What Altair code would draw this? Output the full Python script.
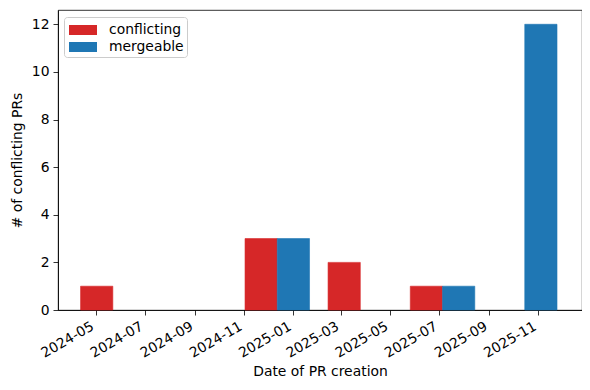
import altair as alt
import pandas as pd

# Data
bin_dates = ["2024-05-22", "2024-09-01", "2024-12-12", "2025-03-25", "2025-07-05", "2025-10-15"]
conflicting = [1, 0, 3, 2, 1, 0]
mergeable = [0, 0, 3, 0, 1, 12]
series = ["conflicting", "mergeable"]
colors = ["#d62728", "#1f77b4"]
tick_dates = ["2024-05-01", "2024-07-01", "2024-09-01", "2024-11-01", "2025-01-01",
              "2025-03-01", "2025-05-01", "2025-07-01", "2025-09-01", "2025-11-01"]
x_domain = ["2024-03-15", "2025-12-25"]

bar_days = 40


def dt(d):
    t = pd.Timestamp(d)
    return alt.DateTime(year=t.year, month=t.month, date=t.day, utc=True)


rows = []
width = pd.Timedelta(days=bar_days)
for d, c, m in zip(bin_dates, conflicting, mergeable):
    t = pd.Timestamp(d)
    rows.append({"series": "conflicting", "count": c,
                 "start": (t - width).strftime("%Y-%m-%dT00:00:00Z"),
                 "end": t.strftime("%Y-%m-%dT00:00:00Z")})
    rows.append({"series": "mergeable", "count": m,
                 "start": t.strftime("%Y-%m-%dT00:00:00Z"),
                 "end": (t + width).strftime("%Y-%m-%dT00:00:00Z")})
df = pd.DataFrame(rows)

FONT = "DejaVu Sans"
FS = 13.9
cscale = alt.Scale(domain=series, range=colors)

chart = alt.Chart(df).transform_filter(
    "datum.count > 0"
).mark_rect(strokeWidth=0.6).encode(
    x=alt.X("start:T",
            scale=alt.Scale(type="utc", domain=[dt(x_domain[0]), dt(x_domain[1])], nice=False),
            axis=alt.Axis(title="Date of PR creation", values=[dt(t) for t in tick_dates],
                          labelExpr="utcFormat(datum.value, '%Y-%m')", labelAngle=330,
                          labelAlign="right", labelBaseline="top", grid=False,
                          labelOverlap=False, tickSize=5, labelPadding=4,
                          labelOffset=-7, titlePadding=4)),
    x2="end:T",
    y=alt.Y("count:Q", scale=alt.Scale(domain=[0, 12.6], nice=False),
            axis=alt.Axis(title="# of conflicting PRs", values=[0, 2, 4, 6, 8, 10, 12],
                          grid=False, tickSize=5, labelPadding=4, titlePadding=7)),
    y2=alt.datum(0),
    stroke=alt.Stroke("series:N", scale=cscale, legend=None),
    color=alt.Color("series:N", scale=cscale,
                    legend=alt.Legend(title=None, orient="none", legendX=6, legendY=7,
                                      symbolType="M-1.4,-0.5L1.4,-0.5L1.4,0.5L-1.4,0.5Z",
                                      symbolSize=400, symbolStrokeWidth=0, symbolOpacity=1,
                                      symbolOffset=6, labelOffset=16, rowPadding=0,
                                      padding=3, strokeColor="#cccccc", fillColor="white",
                                      cornerRadius=3, labelFont=FONT, labelFontSize=FS,
                                      labelColor="black")),
).properties(
    width=524, height=300,
    autosize="none",
    padding={"left": 50, "top": 2, "right": 0, "bottom": 70},
).configure_view(
    stroke="black", strokeWidth=0.8
).configure_axis(
    labelFont=FONT, labelFontSize=FS, labelColor="black",
    titleFont=FONT, titleFontSize=FS, titleColor="black", titleFontWeight="normal",
    domainColor="black", domainWidth=0.8, tickColor="black", tickWidth=0.8,
)

chart.save("out.html", embed_options={"renderer": "svg", "actions": False})
